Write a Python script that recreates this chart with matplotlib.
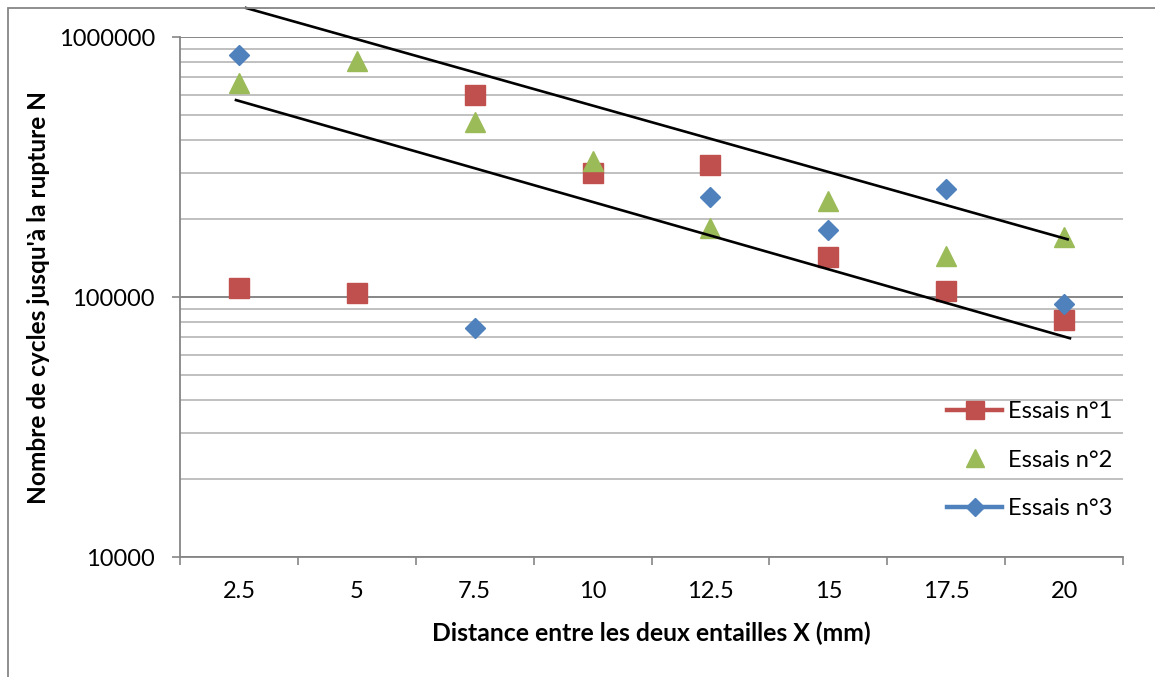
import matplotlib.pyplot as plt
import numpy as np
from matplotlib.lines import Line2D
from matplotlib.patches import Rectangle
from matplotlib.ticker import FixedLocator, LogLocator, NullFormatter

plt.rcParams['font.family'] = ['Lato', 'DejaVu Sans']

######## Data ############################
distances = ['2.5', '5', '7.5', '10', '12.5', '15', '17.5', '20']
essai1 = [108000, 104000, 600000, 300000, 322000, 142000, 105000, 81500]
essai2 = [667000, 811000, 472000, 334000, 185000, 234000, 144000, 170000]
essai3 = [850000, np.nan, 75700, np.nan, 242000, 181000, 260000, 94000]

# two hand-drawn bounding lines (category position, cycles)
upper_x = [0.06, 7.03]
upper_y = [1293000, 166700]
lower_x = [-0.025, 7.05]
lower_y = [572000, 69400]
###########################################

red = '#C0504D'
green = '#9BBB59'
blue = '#4F81BD'
grey = '#868686'

fig = plt.figure(figsize=(11.55, 6.77), dpi=100)
ax = fig.add_axes([180 / 1155, 1 - 557 / 677, 943 / 1155, 520 / 677])

# chart border (Excel chart area)
fig.patches.append(Rectangle((8 / 1155, -0.1), 1.2, 1.1 - 8 / 677, transform=fig.transFigure,
                             fill=False, edgecolor=grey, lw=1.3))

x = np.arange(len(distances))
ax.plot(x, essai1, linestyle='none', marker='s', ms=14.4, color=red, mec=red, zorder=3)
ax.plot(x, essai2, linestyle='none', marker='^', ms=14.4, color=green, mec=green, zorder=3)
ax.plot(x, essai3, linestyle='none', marker='D', ms=10.2, color=blue, mec=blue, zorder=3)

ax.plot(upper_x, upper_y, color='black', lw=1.9, clip_on=False, zorder=4)
ax.plot(lower_x, lower_y, color='black', lw=1.9, clip_on=False, zorder=4)

ax.set_yscale('log')
ax.set_ylim(10000, 1000000)
ax.set_xlim(-0.5, len(distances) - 0.5)

ax.yaxis.set_major_locator(FixedLocator([10000, 100000, 1000000]))
ax.set_yticklabels(['10000', '100000', '1000000'])
ax.yaxis.set_minor_locator(LogLocator(base=10, subs=np.arange(2, 10)))
ax.yaxis.set_minor_formatter(NullFormatter())
ax.tick_params(axis='y', which='major', length=6, width=1.2, color=grey, pad=12, labelsize=17)
ax.tick_params(axis='y', which='minor', length=0)

ax.set_xticks(x)
ax.set_xticklabels(distances)
ax.set_xticks(np.arange(-0.5, len(distances)), minor=True)
ax.tick_params(axis='x', which='major', length=0, pad=17, labelsize=17)
ax.tick_params(axis='x', which='minor', length=5.5, width=1.2, color=grey, direction='out')

ax.grid(True, axis='y', which='major', color=grey, lw=1.4)
ax.grid(True, axis='y', which='minor', color='#c0c0c0', lw=1.4)
ax.set_axisbelow(True)

for side in ['top', 'right']:
    ax.spines[side].set_visible(False)
for side in ['left', 'bottom']:
    ax.spines[side].set_color(grey)
    ax.spines[side].set_linewidth(1.3)

ax.set_xlabel('Distance entre les deux entailles X (mm)', fontsize=17.8, fontweight='bold')
ax.set_ylabel("Nombre de cycles jusqu'à la rupture N", fontsize=17.6, fontweight='bold')
ax.xaxis.set_label_coords(0.5, -0.125)
ax.yaxis.set_label_coords(-0.138, 0.5)

handles = [
    Line2D([], [], color=red, lw=3.2, marker='s', ms=12.5),
    Line2D([], [], color=green, linestyle='none', marker='^', ms=12.5),
    Line2D([], [], color=blue, lw=3.2, marker='D', ms=9),
]
ax.legend(handles, ['Essais n°1', 'Essais n°2', 'Essais n°3'], loc='upper left',
          bbox_to_anchor=(947 / 1155, 1 - 401 / 677), bbox_transform=fig.transFigure,
          frameon=False, fontsize=17, handlelength=2.35, handletextpad=0.22,
          labelspacing=1.17, borderpad=0, borderaxespad=0)

fig.savefig('out.png', dpi=100)
